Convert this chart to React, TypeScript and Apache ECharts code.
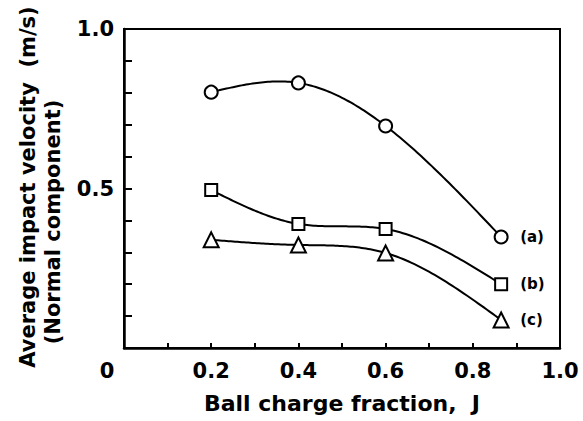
import React, { useEffect, useRef } from 'react';
import * as echarts from 'echarts';

const xValues = [0.2, 0.4, 0.6, 0.865];
const seriesA = [0.802, 0.831, 0.696, 0.348];
const seriesB = [0.495, 0.389, 0.373, 0.2];
const seriesC = [0.339, 0.323, 0.298, 0.088];
const seriesNames = ['(a)', '(b)', '(c)'];
const seriesSymbols = ['circle', 'rect', 'triangle'];
const seriesSymbolSizes = [13, 12, 15];
const yTickLabels: Record<string, string> = { '1.0': '1.0', '0.5': '0.5' };
const xTitle = 'Ball charge fraction,  J';
const yTitle1 = 'Average impact velocity  (m/s)';
const yTitle2 = '(Normal component)';

const FONT = 'DejaVu Sans';

// Second derivatives of a natural cubic spline through (xs, ys)
function splineM(xs: number[], ys: number[]): number[] {
  const n = xs.length;
  const M = new Array(n).fill(0);
  if (n < 3) return M;
  const h: number[] = [];
  for (let i = 0; i < n - 1; i++) h.push(xs[i + 1] - xs[i]);
  const a: number[] = [], b: number[] = [], c: number[] = [], d: number[] = [];
  for (let i = 1; i < n - 1; i++) {
    a.push(h[i - 1]);
    b.push(2 * (h[i - 1] + h[i]));
    c.push(h[i]);
    d.push(6 * ((ys[i + 1] - ys[i]) / h[i] - (ys[i] - ys[i - 1]) / h[i - 1]));
  }
  const m = b.length;
  for (let i = 1; i < m; i++) {
    const w = a[i] / b[i - 1];
    b[i] -= w * c[i - 1];
    d[i] -= w * d[i - 1];
  }
  const sol = new Array(m).fill(0);
  sol[m - 1] = d[m - 1] / b[m - 1];
  for (let i = m - 2; i >= 0; i--) sol[i] = (d[i] - c[i] * sol[i + 1]) / b[i];
  for (let i = 0; i < m; i++) M[i + 1] = sol[i];
  return M;
}

function splineSamples(xs: number[], ys: number[], steps = 40): number[][] {
  const M = splineM(xs, ys);
  const out: number[][] = [];
  for (let i = 0; i < xs.length - 1; i++) {
    const x0 = xs[i], x1 = xs[i + 1], h = x1 - x0;
    for (let s = 0; s <= steps; s++) {
      if (i > 0 && s === 0) continue;
      const x = x0 + (h * s) / steps;
      const y =
        (M[i] * Math.pow(x1 - x, 3)) / (6 * h) +
        (M[i + 1] * Math.pow(x - x0, 3)) / (6 * h) +
        (ys[i] / h - (M[i] * h) / 6) * (x1 - x) +
        (ys[i + 1] / h - (M[i + 1] * h) / 6) * (x - x0);
      out.push([x, y]);
    }
  }
  return out;
}

export default function App() {
  const ref = useRef<HTMLDivElement>(null);
  useEffect(() => {
    if (!ref.current) return;
    const chart = echarts.init(ref.current, undefined, { renderer: 'svg' });
    const allSeries = [seriesA, seriesB, seriesC];
    const curveSeries = allSeries.map((vals, i) => ({
      type: 'custom',
      name: seriesNames[i] + ' curve',
      z: 1,
      data: xValues.map((x, j) => [x, vals[j]]),
      encode: { x: 0, y: 1 },
      silent: true,
      renderItem: (params: any, api: any) => {
        if (params.dataIndex !== 0) return null;
        const pts = splineSamples(xValues, vals).map((p) => api.coord(p));
        return {
          type: 'polyline',
          shape: { points: pts },
          style: { stroke: '#000', lineWidth: 2, fill: 'none' },
        };
      },
    }));
    const markerSeries = allSeries.map((vals, i) => ({
      type: 'line',
      name: seriesNames[i],
      z: 3,
      data: xValues.map((x, j) => [x, vals[j]]),
      symbol: seriesSymbols[i],
      symbolSize: seriesSymbolSizes[i],
      showSymbol: true,
      lineStyle: { color: '#000', width: 0, opacity: 0 },
      itemStyle: { color: '#fff', borderColor: '#000', borderWidth: 2 },
      endLabel: {
        show: true,
        formatter: seriesNames[i],
        distance: 19,
        fontFamily: FONT,
        fontWeight: 'bold',
        fontSize: 15,
        color: '#000',
      },
      emphasis: { disabled: true },
    }));
    const option: any = {
      animation: false,
      backgroundColor: '#fff',
      grid: {
        left: 124,
        right: 23,
        top: 29,
        bottom: 73,
        show: true,
        borderColor: '#000',
        borderWidth: 2,
        backgroundColor: 'transparent',
      },
      xAxis: {
        type: 'value',
        min: 0,
        max: 1,
        interval: 0.1,
        name: xTitle,
        nameLocation: 'middle',
        nameGap: 44,
        nameTextStyle: { fontFamily: FONT, fontWeight: 'bold', fontSize: 22, color: '#000' },
        axisLine: { show: true, lineStyle: { color: '#000', width: 2.5 } },
        axisTick: { show: true, inside: true, length: 5, lineStyle: { color: '#000', width: 2 } },
        splitLine: { show: false },
        axisLabel: {
          margin: 12,
          fontFamily: FONT,
          fontWeight: 'bold',
          fontSize: 21,
          color: '#000',
          formatter: (v: number) => {
            const t = Math.round(v * 10);
            if (t === 0) return '{z|0}';
            if (t % 2 === 0) return (t / 10).toFixed(1);
            return '';
          },
          rich: {
            z: { fontFamily: FONT, fontWeight: 'bold', fontSize: 21, color: '#000', padding: [0, 34, 0, 0] },
          },
        },
      },
      yAxis: {
        type: 'value',
        min: 0,
        max: 1,
        interval: 0.1,
        axisLine: { show: true, lineStyle: { color: '#000', width: 2.5 } },
        axisTick: { show: true, inside: true, length: 8, lineStyle: { color: '#000', width: 2 } },
        splitLine: { show: false },
        axisLabel: {
          margin: 10,
          fontFamily: FONT,
          fontWeight: 'bold',
          fontSize: 21,
          color: '#000',
          formatter: (v: number) => yTickLabels[(Math.round(v * 10) / 10).toFixed(1)] || '',
        },
      },
      graphic: [
        {
          type: 'text',
          x: 28,
          y: 187,
          rotation: Math.PI / 2,
          style: {
            text: yTitle1,
            fontFamily: FONT,
            fontWeight: 'bold',
            fontSize: 21,
            fill: '#000',
            textAlign: 'center',
            textVerticalAlign: 'middle',
            align: 'center',
            verticalAlign: 'middle',
          },
        },
        {
          type: 'text',
          x: 53,
          y: 222,
          rotation: Math.PI / 2,
          style: {
            text: yTitle2,
            fontFamily: FONT,
            fontWeight: 'bold',
            fontSize: 21,
            fill: '#000',
            textAlign: 'center',
            textVerticalAlign: 'middle',
            align: 'center',
            verticalAlign: 'middle',
          },
        },
      ],
      series: [...curveSeries, ...markerSeries],
    };
    chart.setOption(option);
    return () => chart.dispose();
  }, []);
  return (
    <div
      ref={ref}
      style={{ position: 'fixed', left: 0, top: 0, width: 583, height: 421 }}
    />
  );
}
